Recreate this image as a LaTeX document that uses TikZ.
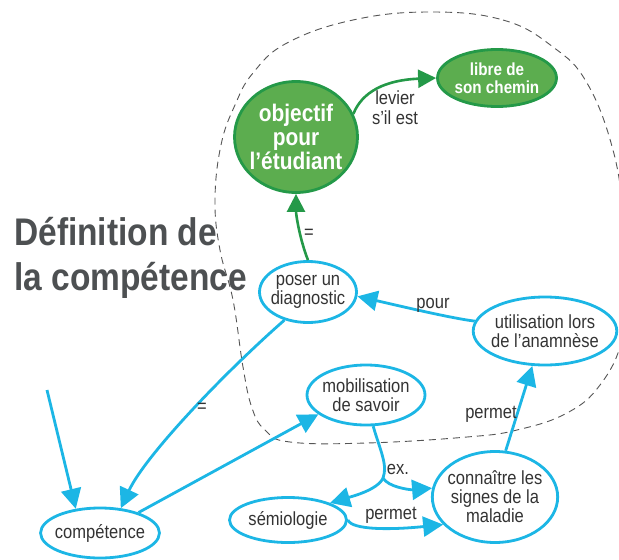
\documentclass[tikz,border=0pt]{standalone}
\usepackage{fontspec}
\setmainfont{Liberation Sans}[FakeStretch=0.87]
\usetikzlibrary{shapes.geometric,arrows.meta}
\definecolor{conceptblue}{RGB}{28,182,229}
\definecolor{goalgreen}{RGB}{92,173,79}
\definecolor{goalborder}{RGB}{36,153,72}
\definecolor{titlegray}{RGB}{77,80,82}
\definecolor{textgray}{RGB}{51,51,51}
\definecolor{dashgray}{RGB}{85,85,85}
\begin{document}
\begin{tikzpicture}[x=1pt,y=-1pt,
    concept/.style={draw=conceptblue, line width=2.8pt, ellipse, inner sep=-3pt,
        align=center, text=textgray, font=\fontsize{19}{19}\selectfont},
    goal/.style={draw=goalborder, fill=goalgreen, line width=2.8pt, ellipse, inner sep=-3pt,
        align=center, text=white},
    blueedge/.style={draw=conceptblue, line width=2.8pt, -{Triangle[length=20pt,width=20pt]}},
    greenedge/.style={draw=goalborder, line width=2.6pt, -{Triangle[length=18pt,width=18pt]}},
    lbl/.style={inner sep=0pt, align=center, text=textgray, font=\fontsize{19}{20}\selectfont},
    headline/.style={anchor=base west, inner sep=0pt, text=titlegray,
        font=\bfseries\fontsize{38.5}{45}\selectfont}
]
    \useasboundingbox (0,0) rectangle (619,560);

    \begin{scope}
    \clip (0,0) rectangle (619,560);
    \draw[dashgray, line width=0.9pt, dash pattern=on 7pt off 5pt]
        plot[smooth cycle, tension=0.7] coordinates {
        (430,12) (503,20) (553,47) (587,83) (613,150) (624,220) (628,280) (622,340)
        (600,385) (567,413) (517,430) (467,437) (367,443) (290,442) (265,430)
        (252,408) (243,367) (233,300) (220,250) (215,200) (221,145) (235,105)
        (253,73) (287,43) (353,20)};
    \end{scope}

    \node[headline] (titletop) at (14,245) {Définition de};
    \node[headline] (titlebottom) at (14,290) {la compétence};

    \node[goal, minimum width=123pt, minimum height=111pt,
        font=\bfseries\fontsize{24}{24}\selectfont
    ] (objectif) at (296,137) {objectif\\pour\\l’étudiant};
    \node[goal, minimum width=119pt, minimum height=57pt,
        font=\bfseries\fontsize{17.5}{18}\selectfont
    ] (libre) at (497,78) {libre de\\son chemin};

    \node[concept, minimum width=97pt, minimum height=61pt] (poser) at (308,292) {poser un\\diagnostic};
    \node[concept, minimum width=134pt, minimum height=68pt] (util) at (545,331) {utilisation lors\\de l’anamnèse};
    \node[concept, minimum width=118pt, minimum height=60pt] (mobil) at (366,395) {mobilisation\\de savoir};
    \node[concept, minimum width=117pt, minimum height=91pt] (connait) at (495,497) {connaître les\\signes de la\\maladie};
    \node[concept, minimum width=117pt, minimum height=45pt] (semio) at (288,520) {sémiologie};
    \node[concept, minimum width=116pt, minimum height=50pt] (compet) at (100,533) {compétence};

    \coordinate (entry) at (47,390);
    \coordinate (exsplit) at (383,478);

    \draw[greenedge] (objectif.22) .. controls (362,92) and (385,80) .. (libre.west);
    \node[lbl] (levier) at (395,108) {levier\\s’il est};

    \draw[greenedge] (poser.north) .. controls (300,240) and (296,215) .. (objectif.south);
    \node[lbl] (eqtop) at (309,234) {=};

    \draw[blueedge] (util.172) .. controls (450,318) and (400,306) .. (poser.355);
    \node[lbl] (pour) at (433,305) {pour};

    \draw[blueedge] (connait.77) -- (util.250);
    \node[lbl] (permettop) at (491,414) {permet};

    \draw[blueedge] (entry) -- (compet.135);

    \draw[blueedge] (poser.230) .. controls (223,374) and (145,456) .. (compet.50);
    \node[lbl] (eqleft) at (202,408) {=};

    \draw[blueedge] (compet.28) -- (mobil.202);

    \draw[conceptblue, line width=2.8pt] (mobil.283) .. controls (380,450) and (388,465) .. (exsplit);
    \draw[blueedge] (exsplit) .. controls (378,490) and (350,497) .. (semio.22);
    \draw[blueedge] (exsplit) .. controls (388,487) and (410,490) .. (connait.172);
    \node[lbl] (ex) at (398,469) {ex.};

    \draw[blueedge] (semio.east) .. controls (352,530) and (390,530) .. (connait.208);
    \node[lbl] (permetlow) at (391,515) {permet};

\end{tikzpicture}
\end{document}
